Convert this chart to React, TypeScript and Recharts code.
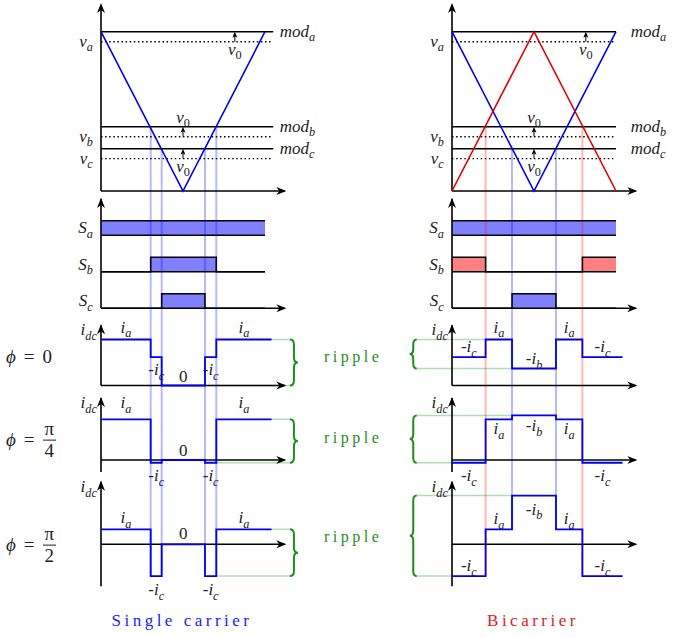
import React from 'react';
import { ComposedChart, Line, Area, XAxis, YAxis, ReferenceLine, ReferenceDot } from 'recharts';

// carrier and modulation levels (mod_a = 1)
const carrierT = [0, 0.5, 1];
const carrierDown = [1, 0, 1];
const carrierUp = [0, 1, 0];
const phases = ['a', 'b', 'c'];
const modLevels = [1.0, 0.404, 0.266];
const refLevels = [0.937, 0.341, 0.203];
const v0Times = [0.816, 0.5, 0.5];

// switching instants (fraction of a carrier period) and dc current state per interval
const singleEdges = [0, 0.303, 0.37, 0.634, 0.703, 1.04];
const singleStates = ['a', 'c', '0', 'c', 'a'];
const biEdges = [0, 0.205, 0.366, 0.634, 0.795, 1.04];
const biStates = ['c', 'a', 'b', 'a', 'c'];

// on-intervals of S_a, S_b, S_c
const singlePulses = [[[0, 1]], [[0.303, 0.703]], [[0.37, 0.634]]];
const biPulses = [[[0, 1]], [[0, 0.205], [0.795, 1]], [[0.366, 0.634]]];

// load angle and current levels (i_a at phi = 0 is 1)
const phiLabels = ['0', 'π/4', 'π/2'];
const iaLevels = [1.0, 0.885, 0.326];
const negIbLevels = [0.37, 0.97, 1.06];
const negIcLevels = [0.615, -0.06, -0.69];

// ---- layout ----
const PX = 164;
const PULSE_H = 0.4;
const BLUE = '#0000ee';
const RED = '#e00000';
const GREEN = '#1f8c1f';
const GREEN_L = 'rgba(0,140,0,0.3)';
const GUIDE_B = 'rgba(0,0,255,0.28)';
const GUIDE_R = 'rgba(255,0,0,0.28)';
const INK = '#222';
const FONT = "'Liberation Serif', 'DejaVu Serif', serif";
const MATH_SIZE = 17;
const guideMods = [1, 2, 2, 1];

const carrierBand = { top: 0, bottom: 196, zero: 191, unit: 159.3, yLo: 0, yHi: 1.18 };
const switchBand = { top: 196, bottom: 314, zero: 308.3, unit: 36.5, yLo: 0, yHi: 3.02 };
const currentBands = [
  { top: 314, bottom: 392, zero: 385.5, unit: 46, yLo: 0, yHi: 1.33 },
  { top: 392, bottom: 476, zero: 460, unit: 46, yLo: -0.26, yHi: 1.37 },
  { top: 476, bottom: 600, zero: 544.3, unit: 46, yLo: -0.91, yHi: 1.38 },
];

const columns = [
  {
    key: 'single', left: 40, right: 340, zeroX: 101,
    edges: singleEdges, states: singleStates, pulses: singlePulses,
    fills: ['#8080ff', '#8080ff', '#8080ff'],
    guideColors: [GUIDE_B, GUIDE_B, GUIDE_B, GUIDE_B],
    bicarrier: false, modEnd: 1.05, braceT: 1.152, braceW: 8,
    // label offsets in px for states [a, b, c, 0]
    offsets: [[-12, 0, 13, -9], [-16, 0, 13, -9], [-11, 0, 14, -10]],
  },
  {
    key: 'bi', left: 400, right: 674, zeroX: 452,
    edges: biEdges, states: biStates, pulses: biPulses,
    fills: ['#8080ff', '#ff8080', '#8080ff'],
    guideColors: [GUIDE_R, GUIDE_B, GUIDE_B, GUIDE_R],
    bicarrier: true, modEnd: 1.0, braceT: -0.215, braceW: -7,
    offsets: [[-12, -9, -10, 0], [10, 11, 13, 0], [-10, 14, -10, 0]],
  },
];

const yDomain = (b: any) => [(b.zero - b.bottom) / b.unit, (b.zero - b.top) / b.unit];
const seg = (x1: number, y1: number, x2: number, y2: number) => [{ x: x1, y: y1 }, { x: x2, y: y2 }];
const guideEdges = (col: any) => col.edges.slice(1, 5);

function Tex({ x, y, s, anchor = 'middle', size = MATH_SIZE, fill = INK }: any) {
  let lead = '';
  let body = s;
  if (body[0] === '-') {
    lead = '-';
    body = body.slice(1);
  }
  const [base, sub] = body.split('_');
  const upright = (t: string) => /^[0-9]+$/.test(t);
  return (
    <text x={x} y={y} textAnchor={anchor} fontFamily={FONT} fontSize={size} fill={fill}>
      {lead ? <tspan>{lead}</tspan> : null}
      <tspan fontStyle={upright(base) ? 'normal' : 'italic'}>{base}</tspan>
      {sub ? (
        <tspan fontSize={size * 0.72} dy={size * 0.28} fontStyle={upright(sub) ? 'normal' : 'italic'}>
          {sub}
        </tspan>
      ) : null}
    </text>
  );
}

const label = (key: string, x: number, y: number, s: string, dy = 0, anchor = 'middle') => (
  <ReferenceDot
    key={key}
    x={x}
    y={y}
    ifOverflow="visible"
    zIndex={2000}
    shape={(p: any) => <Tex x={p.cx} y={p.cy + dy + 5} s={s} anchor={anchor} />}
  />
);

const ArrowRight = (p: any) => (
  <polygon points={`${p.cx},${p.cy} ${p.cx - 10},${p.cy - 4} ${p.cx - 7},${p.cy} ${p.cx - 10},${p.cy + 4}`} fill="#000" />
);
const ArrowUp = (p: any) => (
  <polygon points={`${p.cx},${p.cy} ${p.cx - 4},${p.cy + 10} ${p.cx},${p.cy + 7} ${p.cx + 4},${p.cy + 10}`} fill="#000" />
);
const ArrowUpSmall = (p: any) => (
  <polygon points={`${p.cx},${p.cy} ${p.cx - 2.5},${p.cy + 6} ${p.cx},${p.cy + 4.5} ${p.cx + 2.5},${p.cy + 6}`} fill="#000" />
);

function axes(key: string, yLo: number, yHi: number) {
  return [
    <ReferenceLine key={key + 'x'} segment={seg(0, 0, 1.12, 0)} stroke="#000" strokeWidth={1.6} ifOverflow="visible" zIndex={300} />,
    <ReferenceLine key={key + 'y'} segment={seg(0, yLo, 0, yHi - 0.02)} stroke="#000" strokeWidth={1.6} ifOverflow="visible" zIndex={300} />,
    <ReferenceDot key={key + 'xh'} x={1.13} y={0} shape={ArrowRight} ifOverflow="visible" zIndex={300} />,
    <ReferenceDot key={key + 'yh'} x={0} y={yHi} shape={ArrowUp} ifOverflow="visible" zIndex={300} />,
  ];
}

function bracePath(x: number, ya: number, yb: number, w: number) {
  const y1 = Math.min(ya, yb);
  const y2 = Math.max(ya, yb);
  const r = Math.min(5, (y2 - y1) / 4);
  const ym = (y1 + y2) / 2;
  const xv = x + w * 0.5;
  const xt = x + w;
  return `M${x},${y1} Q${xv},${y1} ${xv},${y1 + r} L${xv},${ym - r} Q${xv},${ym} ${xt},${ym} Q${xv},${ym} ${xv},${ym + r} L${xv},${y2 - r} Q${xv},${y2} ${x},${y2}`;
}

function stepPoints(pulses: number[][], base: number, h: number) {
  const ts = Array.from(new Set([0, 1, ...pulses.flat()])).sort((a, b) => a - b);
  const on = (t: number) => pulses.some(([s, e]) => t >= s && t < e);
  return ts.map((t, i) => {
    const st = i === ts.length - 1 ? on(ts[i - 1]) : on(t);
    const hi = base + (st ? h : 0);
    return { x: t, hi, r: [base, hi] };
  });
}

function carrierItems(col: any) {
  const yd = yDomain(carrierBand);
  const items: any[] = [];
  guideEdges(col).forEach((t: number, i: number) =>
    items.push(
      <ReferenceLine key={`g${i}`} segment={seg(t, modLevels[guideMods[i]], t, yd[0])} stroke={col.guideColors[i]} strokeWidth={2} ifOverflow="visible" zIndex={150} />
    )
  );
  phases.forEach((ph, i) => {
    items.push(<ReferenceLine key={`m${i}`} segment={seg(0, modLevels[i], col.modEnd, modLevels[i])} stroke="#000" strokeWidth={1.5} ifOverflow="visible" zIndex={300} />);
    items.push(<ReferenceLine key={`v${i}`} segment={seg(0, refLevels[i], col.modEnd, refLevels[i])} stroke="#000" strokeWidth={1.4} strokeDasharray="1.5 2.6" ifOverflow="visible" zIndex={300} />);
    items.push(<ReferenceLine key={`a${i}`} segment={seg(v0Times[i], refLevels[i], v0Times[i], modLevels[i] - 0.015)} stroke="#000" strokeWidth={1} ifOverflow="visible" zIndex={300} />);
    items.push(<ReferenceDot key={`ah${i}`} x={v0Times[i]} y={modLevels[i]} shape={ArrowUpSmall} ifOverflow="visible" zIndex={300} />);
    items.push(label(`vl${i}`, -0.05, refLevels[i], `v_${ph}`, 0, 'end'));
    items.push(label(`ml${i}`, 1.09, modLevels[i], `mod_${ph}`, 0, 'start'));
    items.push(label(`vo${i}`, v0Times[i], i === 1 ? modLevels[i] : refLevels[i], 'v_0', i === 1 ? -9 : 8));
  });
  items.push(...axes('ax', carrierBand.yLo, carrierBand.yHi));
  items.push(
    <Line key="cb" data={carrierT.map((t, i) => ({ x: t, y: carrierDown[i] }))} dataKey="y" type="linear" stroke={BLUE} strokeWidth={1.6} dot={false} activeDot={false} isAnimationActive={false} />
  );
  if (col.bicarrier) {
    items.push(
      <Line key="cr" data={carrierT.map((t, i) => ({ x: t, y: carrierUp[i] }))} dataKey="y" type="linear" stroke={RED} strokeWidth={1.6} dot={false} activeDot={false} isAnimationActive={false} />
    );
  }
  return items;
}

function switchItems(col: any) {
  const yd = yDomain(switchBand);
  const items: any[] = [];
  col.pulses.forEach((pl: number[][], r: number) => {
    items.push(
      <Area key={`f${r}`} data={stepPoints(pl, 2 - r, PULSE_H)} dataKey="r" type="stepAfter" stroke="none" fill={col.fills[r]} fillOpacity={1} dot={false} activeDot={false} isAnimationActive={false} />
    );
  });
  guideEdges(col).forEach((t: number, i: number) =>
    items.push(<ReferenceLine key={`g${i}`} segment={seg(t, yd[0], t, yd[1])} stroke={col.guideColors[i]} strokeWidth={2} ifOverflow="visible" zIndex={150} />)
  );
  col.pulses.forEach((pl: number[][], r: number) => {
    const base = 2 - r;
    if (r < 2) {
      items.push(<ReferenceLine key={`b${r}`} segment={seg(0, base, 1, base)} stroke="#000" strokeWidth={1.5} ifOverflow="visible" zIndex={300} />);
    }
    items.push(
      <Line key={`o${r}`} data={stepPoints(pl, base, PULSE_H)} dataKey="hi" type="stepAfter" stroke="#000" strokeWidth={1.5} dot={false} activeDot={false} isAnimationActive={false} />
    );
    items.push(label(`s${r}`, -0.05, base + PULSE_H / 2, `S_${phases[r]}`, 0, 'end'));
  });
  items.push(...axes('ax', switchBand.yLo, switchBand.yHi));
  return items;
}

function currentItems(col: any, k: number) {
  const band = currentBands[k];
  const yd = yDomain(band);
  const level = (s: string) => (s === 'a' ? iaLevels[k] : s === 'b' ? negIbLevels[k] : s === 'c' ? negIcLevels[k] : 0);
  const lv: number[] = col.states.map(level);
  const hi = Math.max(...lv);
  const lo = Math.min(...lv);
  const n = col.states.length;
  const items: any[] = [];

  guideEdges(col).forEach((t: number, i: number) => {
    const end = k === currentBands.length - 1 ? Math.min(lv[i], lv[i + 1]) : yd[0];
    items.push(<ReferenceLine key={`g${i}`} segment={seg(t, yd[1], t, end)} stroke={col.guideColors[i]} strokeWidth={2} ifOverflow="visible" zIndex={150} />);
  });

  // ripple connectors and brace
  const reach = (target: number) => {
    if (col.braceW > 0) {
      let idx = 0;
      lv.forEach((v, i) => { if (v === target) idx = i; });
      return col.edges[idx + 1];
    }
    return col.edges[lv.indexOf(target)];
  };
  [hi, lo].forEach((v, j) =>
    items.push(<ReferenceLine key={`c${j}`} segment={seg(reach(v), v, col.braceT, v)} stroke={GREEN_L} strokeWidth={1.5} ifOverflow="visible" zIndex={160} />)
  );
  items.push(
    <ReferenceLine
      key="brace"
      segment={seg(col.braceT, hi, col.braceT, lo)}
      ifOverflow="visible"
      zIndex={160}
      shape={(p: any) => <path d={bracePath(p.x1, p.y1, p.y2, col.braceW)} stroke={GREEN} strokeWidth={2} fill="none" />}
    />
  );

  items.push(...axes('ax', band.yLo, band.yHi));

  const wave = col.states.map((s: string, i: number) => ({ x: col.edges[i], y: lv[i] }));
  wave.push({ x: col.edges[n], y: lv[n - 1] });
  items.push(
    <Line key="w" data={wave} dataKey="y" type="stepAfter" stroke={BLUE} strokeWidth={1.8} dot={false} activeDot={false} isAnimationActive={false} />
  );

  items.push(label('idc', -0.025, band.yHi, 'i_dc', 6, 'end'));
  const names: any = { a: 'i_a', b: '-i_b', c: '-i_c', '0': '0' };
  const order = ['a', 'b', 'c', '0'];
  col.states.forEach((s: string, i: number) => {
    const mid = (col.edges[i] + col.edges[i + 1]) / 2;
    items.push(label(`l${i}`, mid, lv[i], names[s], col.offsets[k][order.indexOf(s)]));
  });
  return items;
}

function Frame({ col, band, children }: any) {
  const w = col.right - col.left;
  const h = band.bottom - band.top;
  const xd = [(col.left - col.zeroX) / PX, (col.right - col.zeroX) / PX];
  return (
    <div style={{ position: 'absolute', left: col.left, top: band.top, width: w, height: h }}>
      <ComposedChart width={w} height={h} margin={{ top: 0, right: 0, bottom: 0, left: 0 }}>
        <XAxis type="number" dataKey="x" domain={xd} allowDataOverflow hide />
        <YAxis type="number" domain={yDomain(band)} allowDataOverflow hide />
        {children}
      </ComposedChart>
    </div>
  );
}

function Phi({ value, y }: any) {
  const [num, den] = value.split('/');
  return (
    <div
      style={{
        position: 'absolute', left: 6, top: y, transform: 'translateY(-50%)', display: 'flex', alignItems: 'center',
        fontFamily: FONT, fontSize: 19, color: INK, whiteSpace: 'nowrap',
      }}
    >
      <span style={{ fontStyle: 'italic' }}>ϕ</span>
      <span style={{ margin: '0 8px' }}>=</span>
      {den ? (
        <span style={{ display: 'inline-flex', flexDirection: 'column', alignItems: 'center', lineHeight: 1.1 }}>
          <span style={{ padding: '0 2px' }}>{num}</span>
          <span style={{ borderTop: `1px solid ${INK}`, padding: '0 2px', alignSelf: 'stretch', textAlign: 'center' }}>{den}</span>
        </span>
      ) : (
        <span>{num}</span>
      )}
    </div>
  );
}

const phiY = [357, 440, 545];
const rippleY = [357, 438, 537];

export default function App() {
  return (
    <div style={{ position: 'absolute', left: 0, top: 0, width: 674, height: 637, background: '#fff', overflow: 'hidden' }}>
      <style>{'.recharts-surface{overflow:visible}'}</style>
      {columns.map((col) => (
        <React.Fragment key={col.key}>
          <Frame col={col} band={carrierBand}>{carrierItems(col)}</Frame>
          <Frame col={col} band={switchBand}>{switchItems(col)}</Frame>
          {currentBands.map((b, k) => (
            <Frame key={k} col={col} band={b}>{currentItems(col, k)}</Frame>
          ))}
        </React.Fragment>
      ))}
      {phiLabels.map((p, k) => (
        <Phi key={p} value={p} y={phiY[k]} />
      ))}
      {rippleY.map((y, k) => (
        <div
          key={k}
          style={{ position: 'absolute', left: 324, top: y, transform: 'translateY(-50%)', fontFamily: FONT, fontSize: 16, letterSpacing: 3.5, color: GREEN, lineHeight: 1 }}
        >
          ripple
        </div>
      ))}
      <div style={{ position: 'absolute', left: 32, width: 300, top: 620, transform: 'translateY(-50%)', textAlign: 'center', fontFamily: FONT, fontSize: 17, letterSpacing: 3.5, color: '#2020ff', lineHeight: 1 }}>
        Single carrier
      </div>
      <div style={{ position: 'absolute', left: 383, width: 300, top: 620, transform: 'translateY(-50%)', textAlign: 'center', fontFamily: FONT, fontSize: 17, letterSpacing: 3.5, color: '#e02020', lineHeight: 1 }}>
        Bicarrier
      </div>
    </div>
  );
}
